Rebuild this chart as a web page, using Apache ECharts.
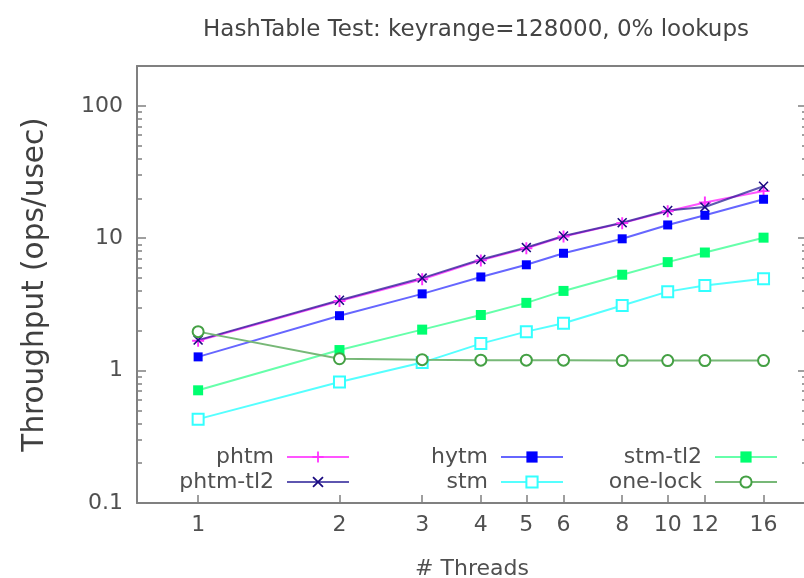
<!DOCTYPE html>
<html><head><meta charset="utf-8">
<script src="https://cdn.jsdelivr.net/npm/echarts@6/dist/echarts.min.js"></script>
<style>html,body{margin:0;padding:0;background:#fff}#c{width:804px;height:578px}</style>
</head><body><div id="c"></div><script>
const threads = [1, 2, 3, 4, 5, 6, 8, 10, 12, 16];
const phtm    = [1.68, 3.36, 4.9, 6.8, 8.4, 10.3, 13.0, 16.0, 18.6, 22.7];
const phtmTl2 = [1.70, 3.40, 5.0, 6.9, 8.5, 10.4, 13.1, 16.2, 17.2, 24.7];
const hytm    = [1.27, 2.6, 3.8, 5.1, 6.3, 7.7, 9.9, 12.6, 14.9, 19.7];
const stm     = [0.43, 0.82, 1.15, 1.6, 1.97, 2.28, 3.1, 3.95, 4.4, 4.95];
const stmTl2  = [0.71, 1.43, 2.04, 2.63, 3.25, 4.0, 5.3, 6.6, 7.8, 10.1];
const oneLock = [1.97, 1.23, 1.21, 1.2, 1.2, 1.2, 1.19, 1.19, 1.19, 1.19];
const xTicks = [1, 2, 3, 4, 5, 6, 8, 10, 12, 16];
const yMajor = [0.1, 1, 10, 100];
const yMinor = [0.2,0.3,0.4,0.5,0.6,0.7,0.8,0.9,2,3,4,5,6,7,8,9,20,30,40,50,60,70,80,90];

const FONT = 'DejaVu Sans';
const AX = '#808080';
const TXT = '#505050';
const PLUS = 'path://M0,4.2H10V5.8H0Z M4.2,0H5.8V10H4.2Z';
const CROSS = 'path://M1.1,0L5,3.9L8.9,0L10,1.1L6.1,5L10,8.9L8.9,10L5,6.1L1.1,10L0,8.9L3.9,5L0,1.1Z';

function pairs(ys) { return threads.map((t, i) => [t, ys[i]]); }

const xBase = { type: 'log', logBase: 2, min: 0.741, max: 19.8, splitLine: { show: false } };
const yBase = { type: 'log', logBase: 10, min: 0.1, max: 200, splitLine: { show: false } };

function mk(name, data, color, lineColor, symbol, size, extra) {
  return Object.assign({
    name, type: 'line', data: pairs(data), symbol, symbolSize: size,
    itemStyle: { color: color },
    lineStyle: { color: lineColor, width: 2 },
    emphasis: { disabled: true }, animation: false
  }, extra || {});
}

const legendCommon = {
  orient: 'vertical', align: 'right', top: 446, padding: 0,
  itemWidth: 62, itemHeight: 14, itemGap: 3,
  textStyle: { fontFamily: FONT, fontSize: 22, color: TXT, padding: [0, 8, 0, 0] },
  selectedMode: false
};

const option = {
  backgroundColor: '#fff',
  animation: false,
  title: {
    text: 'HashTable Test: keyrange=128000, 0% lookups',
    left: 471, top: 14, textAlign: 'center',
    textStyle: { fontFamily: FONT, fontSize: 23, fontWeight: 'normal', color: '#444' }
  },
  grid: { left: 137, top: 66, width: 670, height: 437, containLabel: false, outerBoundsMode: 'none' },
  legend: [
    Object.assign({ right: 454, data: ['phtm', 'phtm-tl2'] }, legendCommon),
    Object.assign({ right: 240, data: ['hytm', 'stm'] }, legendCommon),
    Object.assign({ right: 26, data: ['stm-tl2', 'one-lock'] }, legendCommon)
  ],
  xAxis: [
    Object.assign({}, xBase, {
      position: 'bottom',
      axisLine: { show: true, onZero: false, lineStyle: { color: AX, width: 2 } },
      axisTick: { show: true, inside: true, length: 8, customValues: xTicks, lineStyle: { color: AX, width: 1.5 } },
      axisLabel: { customValues: xTicks, margin: 11, hideOverlap: false, fontFamily: FONT, fontSize: 22, color: TXT,
        formatter: v => String(Math.round(v)) },
      name: '# Threads', nameLocation: 'middle', nameGap: 55,
      nameTextStyle: { fontFamily: FONT, fontSize: 22, color: TXT }
    }),
    Object.assign({}, xBase, {
      position: 'top',
      axisLine: { show: true, onZero: false, lineStyle: { color: AX, width: 2 } },
      axisTick: { show: false }, axisLabel: { show: false }
    })
  ],
  yAxis: [
    Object.assign({}, yBase, {
      position: 'left',
      axisLine: { show: true, onZero: false, lineStyle: { color: AX, width: 2 } },
      axisTick: { show: true, inside: true, length: 9, customValues: yMajor, lineStyle: { color: AX, width: 1.5 } },
      axisLabel: { customValues: yMajor, margin: 14, fontFamily: FONT, fontSize: 22, color: TXT,
        formatter: v => String(v) },
      name: 'Throughput (ops/usec)', nameLocation: 'middle', nameGap: 87, nameRotate: 90,
      nameTextStyle: { fontFamily: FONT, fontSize: 29.5, color: '#404040' }
    }),
    Object.assign({}, yBase, {
      position: 'right',
      axisLine: { show: false },
      axisTick: { show: true, inside: true, length: 9, customValues: yMajor, lineStyle: { color: AX, width: 1.5 } },
      axisLabel: { show: false }
    }),
    Object.assign({}, yBase, {
      position: 'left',
      axisLine: { show: false },
      axisTick: { show: true, inside: true, length: 5, customValues: yMinor, lineStyle: { color: AX, width: 1.5 } },
      axisLabel: { show: false }
    }),
    Object.assign({}, yBase, {
      position: 'right',
      axisLine: { show: false },
      axisTick: { show: true, inside: true, length: 5, customValues: yMinor, lineStyle: { color: AX, width: 1.5 } },
      axisLabel: { show: false }
    })
  ],
  series: [
    mk('phtm', phtm, '#ff33ff', '#ff55ff', PLUS, 12),
    mk('phtm-tl2', phtmTl2, '#1a0a80', 'rgba(40,30,150,0.75)', CROSS, 10),
    mk('hytm', hytm, '#0000ff', '#6666ff', 'rect', 9),
    mk('stm', stm, '#33ffff', '#55ffff', 'emptyRect', 11, { itemStyle: { color: '#33ffff', borderWidth: 2 } }),
    mk('stm-tl2', stmTl2, '#00ff70', '#66ffaa', 'rect', 10),
    mk('one-lock', oneLock, '#44a044', '#77b877', 'emptyCircle', 11, { itemStyle: { color: '#44a044', borderWidth: 2 } })
  ]
};

const chart = echarts.init(document.getElementById('c'), null, { renderer: 'canvas' });
chart.setOption(option);
</script></body></html>
